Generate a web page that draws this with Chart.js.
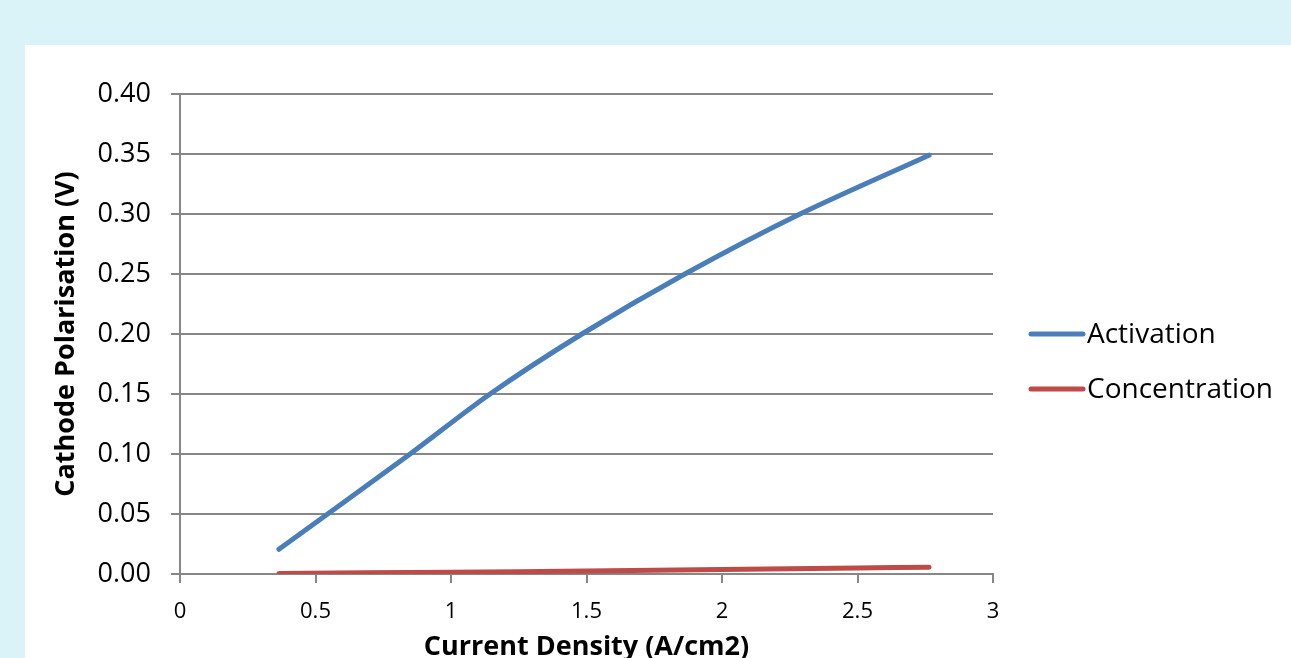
<!DOCTYPE html>
<html>
<head>
<meta charset="utf-8">
<script src="https://cdn.jsdelivr.net/npm/chart.js@4.4.0/dist/chart.umd.min.js"></script>
<style>
html,body{margin:0;padding:0;overflow:hidden;background:#DAF3F8;}
#wrap{position:absolute;left:0;top:0;width:1291px;height:700px;}
</style>
</head>
<body>
<div id="wrap"><canvas id="c" width="1291" height="700"></canvas></div>
<script>
// ---- data ----
const seriesNames = ['Activation', 'Concentration'];
const activationX = [0.365, 0.849, 1.144, 1.483, 1.863, 2.288, 2.764];
const activationY = [0.0206, 0.100, 0.150, 0.200, 0.250, 0.300, 0.349];
const concentrationX = [0.365, 1.0, 1.5, 2.0, 2.5, 2.764];
const concentrationY = [0.0005, 0.0015, 0.0025, 0.0037, 0.0050, 0.0057];
const yTicks = [0, 0.05, 0.10, 0.15, 0.20, 0.25, 0.30, 0.35, 0.40];
const xTicks = [0, 0.5, 1, 1.5, 2, 2.5, 3];
const colors = ['#4A7EBB', '#BE4B48'];

const toPts = (xs, ys) => xs.map((x, i) => ({x: x, y: ys[i]}));

const FONT = "'Open Sans', sans-serif";

const bgPlugin = {
  id: 'bg',
  beforeDraw(chart) {
    const ctx = chart.ctx;
    ctx.save();
    ctx.fillStyle = '#DAF3F8';
    ctx.fillRect(0, 0, chart.width, chart.height);
    ctx.fillStyle = '#FFFFFF';
    ctx.fillRect(25, 45, chart.width - 25, chart.height - 45);
    ctx.restore();
  }
};

const legendPlugin = {
  id: 'customLegend',
  afterDraw(chart) {
    const ctx = chart.ctx;
    ctx.save();
    const x0 = 1031, x1 = 1083, tx = 1087;
    const ys = [334, 389];
    chart.data.datasets.forEach((ds, i) => {
      ctx.strokeStyle = ds.borderColor;
      ctx.lineWidth = 5;
      ctx.lineCap = 'round';
      ctx.beginPath();
      ctx.moveTo(x0, ys[i]);
      ctx.lineTo(x1, ys[i]);
      ctx.stroke();
      ctx.fillStyle = '#000';
      ctx.font = "28px " + FONT;
      ctx.textBaseline = 'middle';
      ctx.textAlign = 'left';
      ctx.fillText(ds.label, tx, ys[i] + 1);
    });
    ctx.restore();
  }
};

new Chart(document.getElementById('c'), {
  type: 'scatter',
  data: {
    datasets: [
      {label: seriesNames[0], data: toPts(activationX, activationY), showLine: true, borderColor: colors[0], backgroundColor: colors[0], borderWidth: 5, pointRadius: 0, tension: 0.3, borderCapStyle: 'round'},
      {label: seriesNames[1], data: toPts(concentrationX, concentrationY), showLine: true, borderColor: colors[1], backgroundColor: colors[1], borderWidth: 5, pointRadius: 0, tension: 0.3, borderCapStyle: 'round'}
    ]
  },
  options: {
    responsive: false,
    animation: false,
    layout: {padding: {left: 0, top: 94, right: 298, bottom: 0}},
    plugins: {legend: {display: false}, tooltip: {enabled: false}},
    scales: {
      x: {
        type: 'linear', min: 0, max: 3,
        afterFit(s) { s.height = 126; },
        afterBuildTicks(s) { s.ticks = xTicks.map(v => ({value: v})); },
        grid: {drawOnChartArea: false, drawTicks: true, tickLength: 9, color: '#878787', lineWidth: 2},
        border: {color: '#878787', width: 2},
        ticks: {color: '#000', font: {family: FONT, size: 22}, padding: 16, maxRotation: 0, callback: v => String(v)},
        title: {display: true, text: 'Current Density (A/cm2)', color: '#000', font: {family: FONT, size: 27, weight: 'bold'}, padding: {top: 0, bottom: 36}}
      },
      y: {
        type: 'linear', min: 0, max: 0.40,
        afterFit(s) { s.width = 180; },
        afterBuildTicks(s) { s.ticks = yTicks.map(v => ({value: v})); },
        grid: {drawTicks: true, tickLength: 9, color: '#878787', lineWidth: 2},
        border: {color: '#878787', width: 2},
        ticks: {color: '#000', font: {family: FONT, size: 27}, padding: 20, callback: v => v.toFixed(2)},
        title: {display: true, text: 'Cathode Polarisation (V)', color: '#000', font: {family: FONT, size: 27, weight: 'bold'}, padding: {top: 50, bottom: 0}}
      }
    }
  },
  plugins: [bgPlugin, legendPlugin]
});
</script>
</body>
</html>
